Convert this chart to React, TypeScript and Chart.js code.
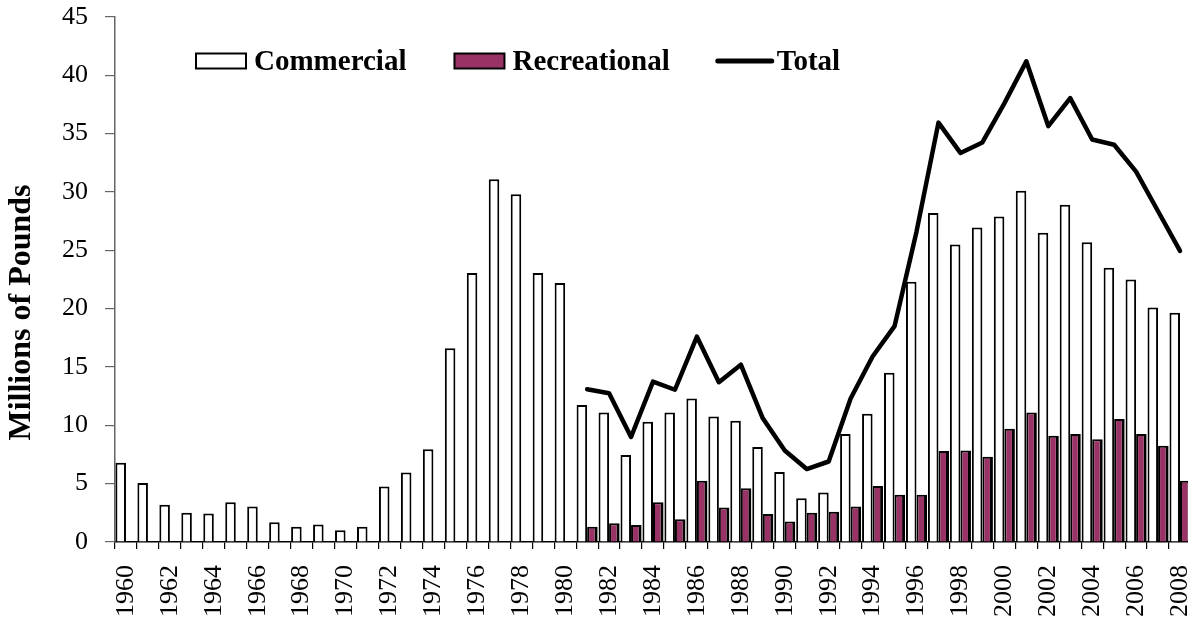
import React, { useEffect, useRef } from 'react';
import { Chart, registerables } from 'chart.js';

Chart.register(...registerables);

const years = [
  '1960', '1961', '1962', '1963', '1964', '1965', '1966', '1967', '1968', '1969',
  '1970', '1971', '1972', '1973', '1974', '1975', '1976', '1977', '1978', '1979',
  '1980', '1981', '1982', '1983', '1984', '1985', '1986', '1987', '1988', '1989',
  '1990', '1991', '1992', '1993', '1994', '1995', '1996', '1997', '1998', '1999',
  '2000', '2001', '2002', '2003', '2004', '2005', '2006', '2007', '2008',
];

const commercial = [
  6.8, 5.05, 3.2, 2.5, 2.45, 3.4, 3.05, 1.7, 1.3, 1.5,
  1.0, 1.3, 4.75, 5.95, 7.95, 16.6, 23.05, 31.1, 29.8, 23.05,
  22.2, 11.75, 11.1, 7.45, 10.3, 11.1, 12.3, 10.75, 10.4, 8.15,
  6.0, 3.75, 4.25, 9.25, 11.0, 14.5, 22.3, 28.2, 25.5, 26.95,
  27.9, 30.1, 26.5, 28.9, 25.7, 23.5, 22.5, 20.1, 19.65,
];

const recreational = [
  null, null, null, null, null, null, null, null, null, null,
  null, null, null, null, null, null, null, null, null, null,
  null, 1.3, 1.6, 1.45, 3.4, 1.95, 5.25, 2.95, 4.6, 2.4,
  1.75, 2.5, 2.6, 3.05, 4.8, 4.05, 4.05, 7.8, 7.85, 7.3,
  9.7, 11.1, 9.1, 9.25, 8.8, 10.55, 9.25, 8.25, 5.25,
];

const total = [
  null, null, null, null, null, null, null, null, null, null,
  null, null, null, null, null, null, null, null, null, null,
  null, 13.1, 12.75, 9.0, 13.75, 13.05, 17.6, 13.7, 15.2, 10.6,
  7.85, 6.25, 6.9, 12.3, 15.9, 18.5, 26.6, 35.95, 33.35, 34.25,
  37.6, 41.2, 35.65, 38.05, 34.5, 34.05, 31.75, 28.35, 24.95,
];

const yTitle = 'Millions of Pounds';
const SERIF = '"Liberation Serif", "Times New Roman", serif';

const customLegend = {
  id: 'customLegend',
  afterDraw(chart: any) {
    const { ctx, chartArea } = chart;
    ctx.save();
    ctx.font = `bold 29px ${SERIF}`;
    ctx.textAlign = 'left';
    ctx.textBaseline = 'alphabetic';
    let x = chartArea.left + 81;
    const cy = chartArea.top + 44;
    chart.data.datasets.forEach((ds: any) => {
      const isLine = ds.type === 'line';
      const w = isLine ? 54 : 50;
      if (isLine) {
        ctx.strokeStyle = ds.borderColor;
        ctx.lineWidth = 5;
        ctx.lineCap = 'round';
        ctx.beginPath();
        ctx.moveTo(x, cy);
        ctx.lineTo(x + w, cy);
        ctx.stroke();
      } else {
        ctx.fillStyle = ds.backgroundColor;
        ctx.fillRect(x, cy - 7.5, w, 15);
        ctx.strokeStyle = '#000';
        ctx.lineWidth = 2;
        ctx.strokeRect(x, cy - 7.5, w, 15);
      }
      x += w + (isLine ? 5 : 8);
      ctx.fillStyle = '#000';
      ctx.fillText(ds.label, x, cy + 9);
      x += ctx.measureText(ds.label).width + 48;
    });
    ctx.restore();
  },
};

const customYTitle = {
  id: 'customYTitle',
  afterDraw(chart: any) {
    const { ctx, chartArea } = chart;
    ctx.save();
    ctx.font = `bold 32px ${SERIF}`;
    ctx.fillStyle = '#000';
    ctx.textAlign = 'center';
    ctx.textBaseline = 'middle';
    ctx.translate(chartArea.left - 93, (chartArea.top + chartArea.bottom) / 2 + 33);
    ctx.rotate(-Math.PI / 2);
    ctx.fillText(yTitle, 0, 0);
    ctx.restore();
  },
};

export default function App() {
  const ref = useRef<HTMLCanvasElement | null>(null);

  useEffect(() => {
    if (!ref.current) return;
    const chart = new Chart(ref.current, {
      type: 'bar',
      data: {
        labels: years,
        datasets: [
          {
            type: 'bar',
            label: 'Commercial',
            data: commercial,
            backgroundColor: '#ffffff',
            borderColor: '#000000',
            borderWidth: { top: 2, left: 2, right: 2, bottom: 0 },
            categoryPercentage: 0.96,
            barPercentage: 1.0,
            order: 1,
          },
          {
            type: 'bar',
            label: 'Recreational',
            data: recreational,
            backgroundColor: '#993366',
            borderColor: '#000000',
            borderWidth: { top: 2, left: 2, right: 3, bottom: 0 },
            categoryPercentage: 0.96,
            barPercentage: 1.0,
            order: 1,
          },
          {
            type: 'line',
            label: 'Total',
            data: total,
            borderColor: '#000000',
            backgroundColor: '#000000',
            borderWidth: 4.5,
            pointRadius: 0,
            tension: 0,
            fill: false,
            spanGaps: false,
            borderJoinStyle: 'round',
            borderCapStyle: 'round',
            order: 0,
          },
        ] as any,
      },
      options: {
        responsive: false,
        maintainAspectRatio: false,
        animation: false,
        devicePixelRatio: 1,
        layout: { padding: { top: 17, left: 0, right: 0, bottom: 0 } },
        plugins: {
          legend: { display: false },
          tooltip: { enabled: false },
        },
        scales: {
          x: {
            type: 'category',
            offset: true,
            grid: {
              offset: true,
              drawOnChartArea: false,
              drawTicks: true,
              tickLength: 7,
              color: '#000000',
              lineWidth: 1.2,
            },
            border: { display: true, color: '#000000', width: 1.5 },
            ticks: {
              autoSkip: false,
              maxRotation: 90,
              minRotation: 90,
              padding: 16,
              color: '#000000',
              font: { family: SERIF, size: 26 },
              callback: (_v: any, i: number) => (i % 2 === 0 ? years[i] : ''),
            },
            afterFit: (scale: any) => {
              scale.height = 83;
              scale.paddingLeft = 0;
              scale.paddingRight = 0;
            },
          },
          y: {
            min: 0,
            max: 45,
            grid: {
              drawOnChartArea: false,
              drawTicks: true,
              tickLength: 10,
              color: '#666666',
              lineWidth: 1.2,
            },
            border: { display: true, color: '#666666', width: 1.5 },
            ticks: {
              stepSize: 5,
              padding: 17,
              color: '#000000',
              font: { family: SERIF, size: 26 },
            },
            afterFit: (scale: any) => {
              scale.width = 115;
              scale.paddingTop = 0;
              scale.paddingBottom = 0;
            },
          },
        },
      } as any,
      plugins: [customLegend, customYTitle],
    });
    return () => chart.destroy();
  }, []);

  return (
    <div style={{ position: 'fixed', left: 0, top: 0, width: 1188, height: 625, overflow: 'hidden', background: '#fff' }}>
      <canvas ref={ref} width={1191} height={625} style={{ width: 1191, height: 625, display: 'block' }} />
    </div>
  );
}
